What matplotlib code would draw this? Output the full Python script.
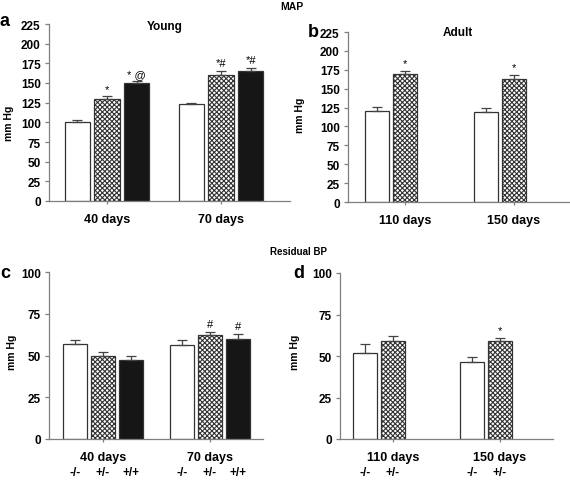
import matplotlib
matplotlib.use("Agg")
import matplotlib.pyplot as plt
import matplotlib.transforms as mtransforms
import numpy as np

plt.rcParams["font.family"] = ["Liberation Sans", "DejaVu Sans"]
plt.rcParams["font.weight"] = "bold"
plt.rcParams["hatch.linewidth"] = 0.8
plt.rcParams["hatch.color"] = "#222222"

# panel a: MAP, young (40 / 70 days), genotypes -/-, +/-, +/+
young_groups = ["40 days", "70 days"]
young_map = [[101, 130, 150], [123, 160, 165]]
young_map_err = [[2, 3, 2], [1.5, 5, 4]]
young_map_marks = [["", "*", "* @"], ["", "*#", "*#"]]

# panel b: MAP, adult (110 / 150 days), genotypes -/-, +/-
adult_groups = ["110 days", "150 days"]
adult_map = [[121, 170], [119, 163]]
adult_map_err = [[5, 4], [5, 5]]
adult_map_marks = [["", "*"], ["", "*"]]

# panel c: residual BP, young
young_res = [[57, 50, 47.5], [56.5, 62, 60]]
young_res_err = [[2.5, 2, 2], [2.5, 2, 3]]
young_res_marks = [["", "", ""], ["", "#", "#"]]

# panel d: residual BP, adult
adult_res = [[52, 59], [46.5, 59]]
adult_res_err = [[5, 3], [3, 2]]
adult_res_marks = [["", ""], ["", "*"]]

genotypes = ["-/-", "+/-", "+/+"]

FILLS = [("white", None), ("white", "xxxxxxx"), ("#161616", None)]
OFFSET = 0.26
WIDTH = 0.22
AXIS_GREY = "#7f7f7f"


def draw_panel(ax, groups, values, errs, marks, ymax, yticks, xlim, geno=False):
    for gi, (vals, es, ms) in enumerate(zip(values, errs, marks)):
        for bi, (v, e, m) in enumerate(zip(vals, es, ms)):
            x = gi + (bi - 1) * OFFSET
            face, hatch = FILLS[bi]
            ax.bar(x, v, width=WIDTH, color=face, edgecolor="#333333",
                   linewidth=0.9, hatch=hatch, zorder=2)
            ax.errorbar(x, v, yerr=[[0], [e]], fmt="none", ecolor="#444444",
                        elinewidth=0.9, capsize=3.5, capthick=0.9, zorder=3)
            if m:
                ax.annotate(m, (x, v + e), xytext=(0, 2), textcoords="offset points",
                            ha="center", va="bottom", fontsize=8, fontweight="normal")
            if geno:
                trans = mtransforms.blended_transform_factory(ax.transData, ax.transAxes)
                ax.text(x, -0.2, genotypes[bi], transform=trans, ha="center",
                        va="center", fontsize=8.5)
    ax.set_xlim(*xlim)
    ax.set_ylim(0, ymax)
    ax.set_yticks(yticks)
    ax.set_xticks(range(len(groups)))
    ax.set_xticklabels(groups, fontsize=9)
    ax.tick_params(axis="y", labelsize=8.5, length=3, width=0.9, color=AXIS_GREY, pad=3)
    ax.tick_params(axis="x", length=2.5, width=0.9, color=AXIS_GREY, pad=6)
    for side in ("top", "right"):
        ax.spines[side].set_visible(False)
    for side in ("left", "bottom"):
        ax.spines[side].set_color(AXIS_GREY)
        ax.spines[side].set_linewidth(0.9)


fig = plt.figure(figsize=(5.70, 4.81), dpi=100)
W, H = 570, 481


def axes_px(left, right, top, bottom):
    return fig.add_axes([left / W, 1 - bottom / H, (right - left) / W, (bottom - top) / H])


ax_a = axes_px(49, 290, 25, 202)
ax_b = axes_px(348, 570, 33, 203)
ax_c = axes_px(49, 263, 273, 440)
ax_d = axes_px(340, 553, 274, 440)

map_ticks = np.arange(0, 226, 25)
res_ticks = np.arange(0, 101, 25)
draw_panel(ax_a, young_groups, young_map, young_map_err, young_map_marks, 225, map_ticks, (-0.509, 1.605))
draw_panel(ax_b, adult_groups, adult_map, adult_map_err, adult_map_marks, 225, map_ticks, (-0.523, 1.514))
draw_panel(ax_c, young_groups, young_res, young_res_err, young_res_marks, 100, res_ticks, (-0.505, 1.495), geno=True)
draw_panel(ax_d, adult_groups, adult_res, adult_res_err, adult_res_marks, 100, res_ticks, (-0.495, 1.495), geno=True)


def fig_text(x, y, s, **kw):
    fig.text(x / W, 1 - y / H, s, ha="center", va="center", **kw)


fig_text(292, 7, "MAP", fontsize=7.5)
fig_text(298, 252, "Residual BP", fontsize=7)
fig_text(165, 27, "Young", fontsize=8.5)
fig_text(458, 33, "Adult", fontsize=8.5)
fig_text(5, 21, "a", fontsize=13)
fig_text(313, 33, "b", fontsize=13)
fig_text(5, 274, "c", fontsize=13)
fig_text(299, 274, "d", fontsize=13)
fig_text(8.5, 123, "mm Hg", fontsize=7.5, rotation=90)
fig_text(300, 115, "mm Hg", fontsize=7.5, rotation=90)
fig_text(12, 352, "mm Hg", fontsize=7.5, rotation=90)
fig_text(295, 352, "mm Hg", fontsize=7.5, rotation=90)

fig.savefig("out.png", dpi=100)
